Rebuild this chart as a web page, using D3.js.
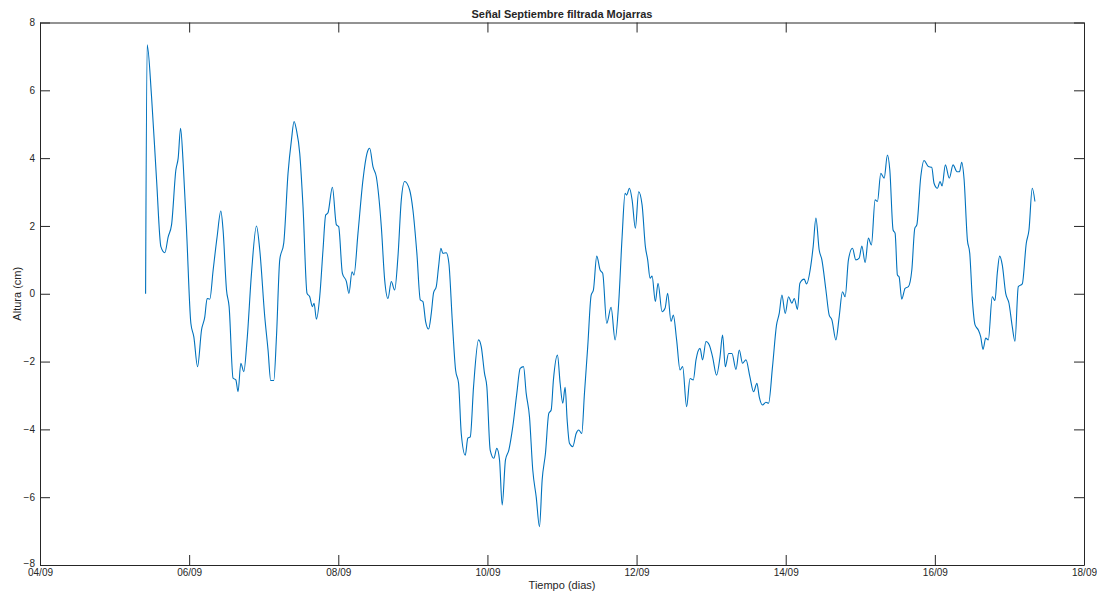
<!DOCTYPE html>
<html>
<head>
<meta charset="utf-8">
<script src="https://cdn.jsdelivr.net/npm/d3@7"></script>
<style>
  body { margin: 0; background: #fff; }
  text { font-family: "Liberation Sans", Arial, sans-serif; fill: #262626; }
</style>
</head>
<body>
<div id="chart"></div>
<script>
// time in days of September, height in cm
var dias = [5.416,5.437,5.496,5.563,5.621,5.674,5.719,5.764,5.822,5.853,5.885,5.920,5.965,6.023,6.063,6.113,6.166,6.210,6.241,6.277,
  6.322,6.375,6.425,6.455,6.501,6.536,6.589,6.626,6.656,6.693,6.733,6.777,6.836,6.903,6.947,7.014,7.058,7.094,7.135,7.171,
  7.215,7.269,7.326,7.372,7.407,7.439,7.483,7.527,7.581,7.617,7.653,7.675,7.707,7.751,7.795,7.831,7.862,7.921,7.975,8.005,
  8.055,8.109,8.143,8.184,8.210,8.264,8.331,8.385,8.421,8.465,8.510,8.577,8.622,8.666,8.711,8.756,8.800,8.845,8.890,8.957,
  9.001,9.054,9.100,9.135,9.171,9.211,9.247,9.278,9.314,9.345,9.376,9.403,9.448,9.483,9.528,9.573,9.613,9.649,9.703,9.737,
  9.770,9.814,9.881,9.917,9.961,9.992,10.037,10.086,10.126,10.162,10.198,10.242,10.287,10.340,10.394,10.439,10.484,10.520,10.564,10.608,
  10.654,10.698,10.734,10.778,10.823,10.855,10.885,10.939,10.975,11.010,11.042,11.069,11.100,11.144,11.190,11.224,11.265,11.301,11.345,11.391,
  11.421,11.466,11.511,11.546,11.600,11.658,11.712,11.760,11.806,11.846,11.867,11.904,11.940,11.984,12.028,12.074,12.118,12.149,12.181,12.208,
  12.252,12.288,12.342,12.382,12.417,12.462,12.493,12.537,12.583,12.618,12.671,12.717,12.761,12.797,12.851,12.885,12.931,12.975,13.019,13.073,
  13.119,13.153,13.190,13.234,13.279,13.333,13.377,13.421,13.467,13.520,13.569,13.614,13.645,13.689,13.735,13.770,13.823,13.877,13.913,13.949,
  13.993,14.038,14.083,14.114,14.158,14.190,14.248,14.279,14.338,14.368,14.405,14.449,14.485,14.539,14.583,14.619,14.673,14.717,14.761,14.797,
  14.841,14.895,14.940,14.985,15.021,15.065,15.109,15.149,15.199,15.230,15.275,15.320,15.364,15.396,15.440,15.467,15.498,15.520,15.556,15.601,
  15.645,15.691,15.731,15.758,15.811,15.855,15.913,15.958,15.989,16.034,16.070,16.097,16.141,16.194,16.244,16.297,16.331,16.360,16.391,16.436,
  16.468,16.503,16.539,16.583,16.615,16.646,16.682,16.717,16.770,16.806,16.837,16.869,16.904,16.950,16.994,17.038,17.074,17.119,17.172,17.226,
  17.262,17.306,17.342];

var altura = [0.0,7.34,5.81,3.36,1.39,1.21,1.68,2.03,3.65,4.0,4.88,3.85,1.88,-0.87,-1.27,-2.15,-1.07,-0.68,-0.14,-0.16,
  0.70,1.68,2.44,1.88,0.11,-0.38,-2.49,-2.54,-2.89,-2.05,-2.30,-1.36,0.60,2.0,1.29,-0.68,-1.66,-2.56,-2.56,-1.27,
  1.0,1.5,3.55,4.54,5.08,4.83,4.14,2.57,0.01,-0.09,-0.38,-0.28,-0.75,-0.09,1.29,2.32,2.39,3.14,2.03,1.98,
  0.60,0.36,0.01,0.65,0.55,1.78,3.36,4.14,4.29,3.75,3.45,1.98,0.41,-0.14,0.36,0.11,1.09,2.77,3.31,3.06,
  2.47,1.19,-0.18,-0.23,-0.82,-1.04,-0.58,0.03,0.21,0.80,1.34,1.19,1.21,0.9,-0.77,-2.25,-2.64,-4.12,-4.76,-4.26,
  -4.22,-2.74,-1.36,-1.56,-2.35,-2.74,-4.61,-4.85,-4.56,-4.90,-6.23,-4.9,-4.61,-3.92,-2.94,-2.2,-2.15,-2.94,-3.63,-5.2,
  -5.99,-6.87,-5.49,-4.71,-3.53,-3.43,-2.54,-1.81,-2.64,-3.23,-2.76,-3.72,-4.41,-4.51,-4.12,-4.02,-4.12,-2.94,-1.56,-0.04,
  0.11,1.11,0.7,0.6,-0.87,-0.4,-1.36,-0.28,1.68,2.96,2.91,3.11,2.77,1.93,3.01,2.62,1.39,1.0,0.46,0.52,
  -0.23,0.31,-0.53,-0.43,0.01,-0.82,-0.63,-1.36,-2.25,-2.15,-3.33,-2.5,-2.54,-1.95,-1.61,-1.95,-1.41,-1.51,-1.86,-2.4,
  -1.86,-1.22,-2.15,-1.76,-1.76,-2.23,-1.66,-2.05,-1.95,-2.45,-2.89,-2.64,-3.04,-3.28,-3.2,-3.23,-2.15,-0.92,-0.58,-0.04,
  -0.58,-0.09,-0.28,-0.14,-0.46,0.31,0.43,0.29,0.85,1.39,2.23,1.29,1.0,0.11,-0.63,-0.77,-1.36,-0.68,0.06,-0.09,
  1.0,1.34,1.0,1.05,1.41,0.92,1.64,1.44,2.77,2.72,3.55,3.41,4.09,3.65,1.88,1.78,0.55,0.5,-0.16,0.16,
  0.21,0.7,1.93,2.03,3.45,3.93,3.75,3.73,3.26,3.11,3.31,3.18,3.8,3.41,3.8,3.6,3.6,3.88,3.4,1.59,
  1.19,-0.18,-0.92,-1.07,-1.27,-1.64,-1.31,-1.36,-0.09,-0.2,0.6,1.11,0.85,0.01,-0.28,-0.97,-1.40,0.21,0.29,1.49,
  1.88,3.11,2.72];

var xTicks = [4, 6, 8, 10, 12, 14, 16, 18];
var yTicks = [-8, -6, -4, -2, 0, 2, 4, 6, 8];

var width = 1097, height = 597;
var margin = {top: 22.5, right: 13, bottom: 32, left: 40};

var svg = d3.select("#chart").append("svg")
    .attr("width", width)
    .attr("height", height);

var x = d3.scaleLinear().domain([4, 18]).range([margin.left, width - margin.right]);
var y = d3.scaleLinear().domain([-8, 8]).range([height - margin.bottom, margin.top]);

function fecha(d) { return (d < 10 ? "0" + d : d) + "/09"; }

// axes, ticks pointing inward like matlab
svg.append("g")
    .attr("transform", "translate(0," + (height - margin.bottom) + ")")
    .call(d3.axisBottom(x).tickValues(xTicks).tickSizeInner(-10).tickSizeOuter(0).tickPadding(4).tickFormat(fecha));
svg.append("g")
    .attr("transform", "translate(0," + margin.top + ")")
    .call(d3.axisTop(x).tickValues(xTicks).tickSizeInner(-10).tickSizeOuter(0).tickFormat(""));
var yAxis = svg.append("g")
    .attr("transform", "translate(" + margin.left + ",0)")
    .call(d3.axisLeft(y).tickValues(yTicks).tickSizeInner(-10).tickSizeOuter(0).tickPadding(5));
svg.append("g")
    .attr("transform", "translate(" + (width - margin.right) + ",0)")
    .call(d3.axisRight(y).tickValues(yTicks).tickSizeInner(-10).tickSizeOuter(0).tickFormat(""));

// the bottom label sits a bit higher so it doesn't touch the date
yAxis.selectAll(".tick text").filter(function(d) { return d === -8; }).attr("dy", "0.1em");

svg.selectAll(".domain").attr("stroke", "#262626").attr("stroke-width", 1);
svg.selectAll(".tick line").attr("stroke", "#262626");
svg.selectAll(".tick text")
    .attr("font-family", "Liberation Sans, Arial, sans-serif")
    .attr("font-size", "10px")
    .attr("fill", "#262626");

var puntos = dias.map(function(d, i) { return [d, altura[i]]; });

var line = d3.line()
    .x(function(d) { return x(d[0]); })
    .y(function(d) { return y(d[1]); })
    .curve(d3.curveMonotoneX);

svg.append("path")
    .datum(puntos)
    .attr("fill", "none")
    .attr("stroke", "#0072BD")
    .attr("stroke-width", 1.1)
    .attr("d", line);

svg.append("text")
    .attr("x", (margin.left + width - margin.right) / 2)
    .attr("y", 18)
    .attr("text-anchor", "middle")
    .attr("font-weight", "bold")
    .attr("font-size", "11px")
    .text("Señal Septiembre filtrada Mojarras");

svg.append("text")
    .attr("x", (margin.left + width - margin.right) / 2)
    .attr("y", 589)
    .attr("text-anchor", "middle")
    .attr("font-size", "11px")
    .text("Tiempo (dias)");

svg.append("text")
    .attr("transform", "translate(21," + y(0) + ") rotate(-90)")
    .attr("text-anchor", "middle")
    .attr("font-size", "11px")
    .text("Altura (cm)");
</script>
</body>
</html>
